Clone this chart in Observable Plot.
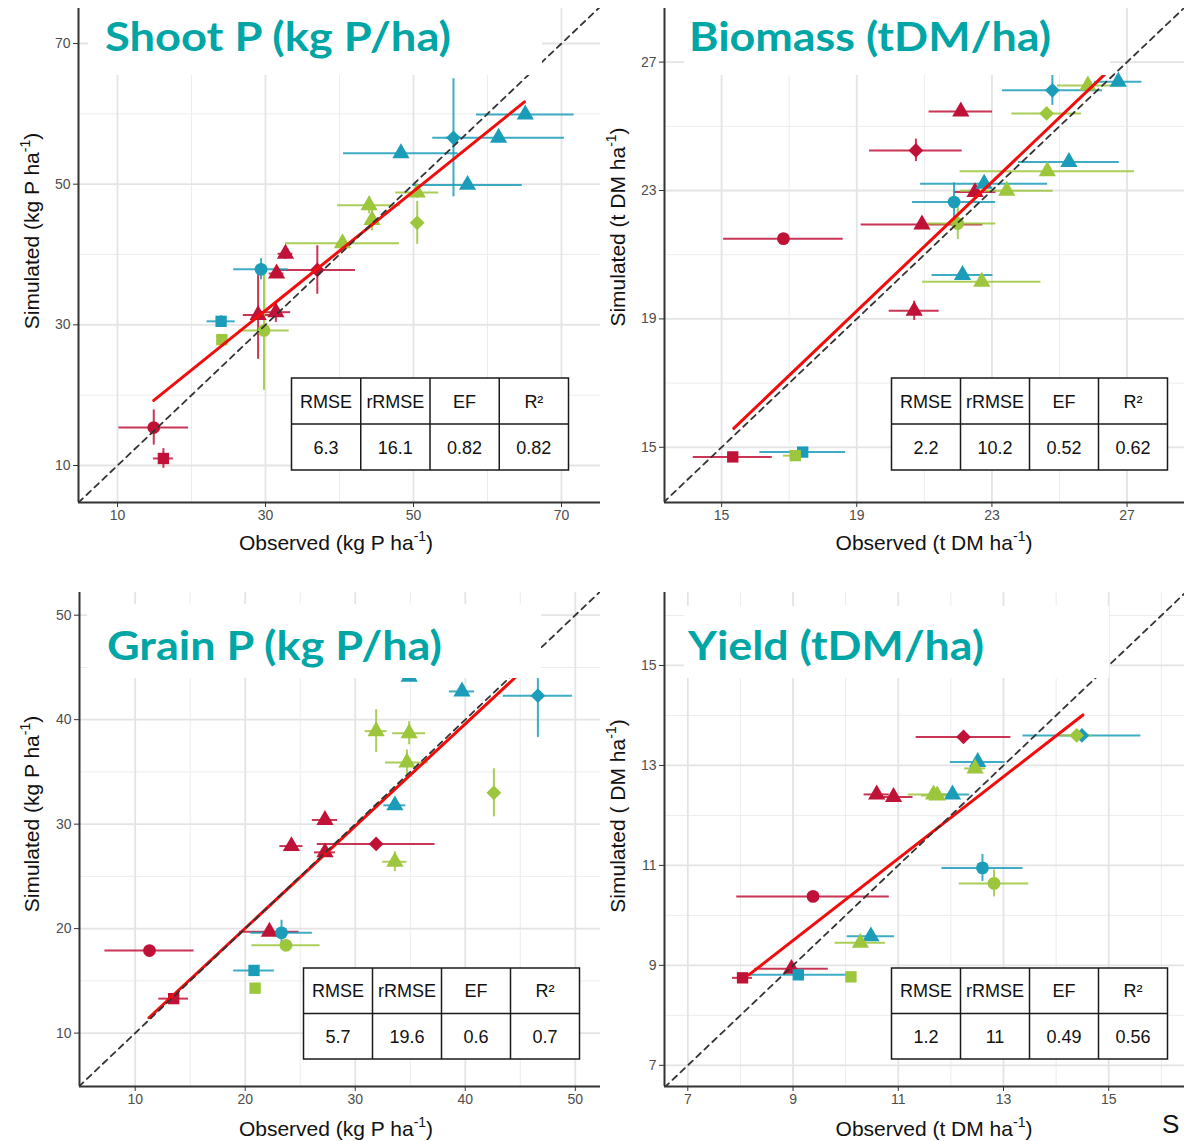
<!DOCTYPE html>
<html><head><meta charset="utf-8">
<script src="https://cdn.jsdelivr.net/npm/d3@7"></script>
<script src="https://cdn.jsdelivr.net/npm/@observablehq/plot@0.6"></script>
<style>
body{margin:0;background:#fff;}
#wrap{position:relative;width:1184px;height:1141px;overflow:hidden;background:#fff;}
.panel{position:absolute;}
</style></head><body><div id="wrap"></div>
<script>
// ---------- shared categories ----------
const treatments = ["T1", "T2", "T3"];
const shapes = ["circ", "sq", "diam", "tri"];
const statHeaders = ["RMSE", "rRMSE", "EF", "R²"];

// ---------- Shoot P (kg P/ha) ----------
const shootObs = [14.9, 16.2, 31.5, 32.7, 29.0, 31.4, 37.0, 24.0, 29.4, 48.3, 55.4, 61.5, 57.3, 65.1, 24.1, 29.8, 40.4, 44.0, 44.4, 50.5, 50.5];
const shootSim = [15.4, 11.0, 37.3, 40.1, 31.4, 31.8, 37.8, 30.5, 37.9, 54.4, 56.6, 56.6, 49.9, 59.9, 27.9, 29.2, 41.6, 47.0, 44.9, 48.8, 44.5];
const shootObsSd = [4.7, 1.35, 1.0, 1.0, 2.0, 2.0, 5.15, 1.9, 3.7, 7.75, 1.0, 8.9, 7.4, 6.6, 0.3, 3.4, 7.7, 4.25, 0.5, 2.9, 0.5];
const shootSimSd = [2.5, 1.4, 0.6, 0.8, 6.3, 1.45, 3.45, 0.8, 1.5, 0.5, 8.4, 0.5, 0.5, 0.5, 0.3, 8.5, 1.0, 1.2, 1.55, 0.8, 3.05];
const shootTrt = ["T1","T1","T1","T1","T1","T1","T1","T2","T2","T2","T2","T2","T2","T2","T3","T3","T3","T3","T3","T3","T3"];
const shootShape = ["circ","sq","tri","tri","tri","tri","diam","sq","circ","tri","diam","tri","tri","tri","sq","circ","tri","tri","tri","tri","diam"];
const shootFitObs = [14.9, 65.0];
const shootFitSim = [19.25, 61.7];
const shootStats = ["6.3", "16.1", "0.82", "0.82"];
const shootTicks = [10, 30, 50, 70];
const shootMinor = [20, 40, 60];

// ---------- Biomass (tDM/ha) ----------
const bioObs = [22.08, 20.75, 22.50, 20.93, 16.83, 20.70, 15.33, 24.79, 26.74, 25.28, 22.77, 21.88, 22.13, 17.40, 25.84, 24.62, 24.64, 23.44, 21.99, 22.70, 17.18];
const bioSim = [25.46, 24.25, 22.95, 21.94, 21.50, 19.25, 14.70, 26.12, 26.39, 23.89, 23.21, 22.64, 20.37, 14.85, 26.27, 25.40, 23.60, 22.99, 21.97, 20.16, 14.74];
const bioObsSd = [0.94, 1.37, 0.62, 1.8, 1.77, 0.74, 1.17, 1.48, 0.7, 1.49, 1.88, 1.23, 0.9, 1.27, 0.9, 1.03, 2.58, 1.37, 1.12, 1.75, 0.35];
const bioSimSd = [0.1, 0.35, 0.1, 0.15, 0.05, 0.3, 0.05, 0.47, 0.1, 0.1, 0.1, 0.6, 0.1, 0.05, 0.1, 0.1, 0.1, 0.1, 0.5, 0.1, 0.05];
const bioTrt = ["T1","T1","T1","T1","T1","T1","T1","T2","T2","T2","T2","T2","T2","T2","T3","T3","T3","T3","T3","T3","T3"];
const bioShape = ["tri","diam","tri","tri","circ","tri","sq","diam","tri","tri","tri","circ","tri","sq","tri","diam","tri","tri","circ","tri","sq"];
const bioFitObs = [15.36, 26.44];
const bioFitSim = [15.59, 26.72];
const bioStats = ["2.2", "10.2", "0.52", "0.62"];
const bioTicks = [15, 19, 23, 27];
const bioMinor = [17, 21, 25];

// ---------- Grain P (kg P/ha) ----------
const grainObs = [11.3, 13.5, 22.2, 24.2, 27.25, 27.25, 31.9, 20.8, 23.3, 33.6, 39.7, 46.6, 34.9, 20.9, 23.7, 33.6, 31.9, 34.9, 34.7, 42.6];
const grainSim = [17.9, 13.3, 19.7, 27.9, 30.4, 27.3, 28.1, 16.0, 19.6, 31.8, 42.7, 42.3, 44.1, 14.3, 18.4, 26.4, 38.9, 38.7, 35.9, 33.0];
const grainObsSd = [4.05, 1.35, 2.7, 1.05, 1.15, 0.95, 5.35, 1.85, 2.8, 1.0, 1.15, 3.15, 0.8, 0.3, 3.1, 1.1, 1.0, 1.5, 1.95, 0.3];
const grainSimSd = [0.2, 0.2, 0.3, 0.4, 0.5, 0.3, 0.2, 0.4, 1.2, 0.3, 0.3, 4.0, 0.3, 0.2, 0.3, 0.95, 2.05, 1.1, 1.2, 2.3];
const grainTrt = ["T1","T1","T1","T1","T1","T1","T1","T2","T2","T2","T2","T2","T2","T3","T3","T3","T3","T3","T3","T3"];
const grainShape = ["circ","sq","tri","tri","tri","tri","diam","sq","circ","tri","tri","diam","tri","sq","circ","tri","tri","tri","tri","diam"];
const grainFitObs = [11.25, 46.6];
const grainFitSim = [11.47, 46.05];
const grainStats = ["5.7", "19.6", "0.6", "0.7"];
const grainTicks = [10, 20, 30, 40, 50];
const grainMinor = [15, 25, 35, 45];

// ---------- Yield (tDM/ha) ----------
const yieldObs = [12.24, 10.59, 10.91, 9.38, 8.97, 8.04, 12.51, 12.03, 14.49, 12.60, 10.48, 9.10, 12.46, 11.67, 11.74, 14.39, 12.82, 10.28, 10.10];
const yieldSim = [13.57, 12.42, 12.37, 10.38, 8.93, 8.75, 13.07, 12.42, 13.60, 10.95, 9.58, 8.81, 12.94, 12.42, 12.40, 13.60, 10.64, 9.45, 8.77];
const yieldObsSd = [0.9, 0.24, 0.37, 1.45, 0.7, 0.19, 0.52, 0.33, 1.12, 0.77, 0.45, 1.06, 0.2, 0.48, 0.3, 0.3, 0.66, 0.48, 0.05];
const yieldSimSd = [0.05, 0.05, 0.1, 0.05, 0.05, 0.05, 0.05, 0.05, 0.05, 0.27, 0.05, 0.05, 0.05, 0.05, 0.05, 0.05, 0.27, 0.05, 0.05];
const yieldTrt = ["T1","T1","T1","T1","T1","T1","T2","T2","T2","T2","T2","T2","T3","T3","T3","T3","T3","T3","T3"];
const yieldShape = ["diam","tri","tri","circ","tri","sq","tri","tri","diam","circ","tri","sq","tri","tri","tri","diam","circ","tri","sq"];
const yieldFitObs = [8.16, 14.51];
const yieldFitSim = [8.81, 14.01];
const yieldStats = ["1.2", "11", "0.49", "0.56"];
const yieldTicks = [7, 9, 11, 13, 15];
const yieldMinor = [8, 10, 12, 14, 16];

// ---------- styling ----------
const trtColors = ["#C01236", "#1B9DBA", "#9CC63B"];
// square rotated 45° (ggplot filled diamond)
const diamondSymbol = {
  draw(context, size) {
    const r = 0.92 * Math.sqrt(size / 2);
    context.moveTo(0, -r); context.lineTo(r, 0); context.lineTo(0, r); context.lineTo(-r, 0); context.closePath();
  }
};
const shapeSymbols = ["circle", "square", diamondSymbol, "triangle"];
const FONT = "'Liberation Sans', Arial, Helvetica, sans-serif";

function makePanel(cfg) {
  const data = cfg.obs.map((o, i) => ({obs: o, sim: cfg.sim[i], xe: cfg.obsSd[i], ye: cfg.simSd[i], trt: cfg.trt[i], shp: cfg.shape[i]}));
  const fit = cfg.fitObs.map((x, i) => ({x, y: cfg.fitSim[i]}));
  const lo = Math.min(cfg.xd[0], cfg.yd[0]), hi = Math.max(cfg.xd[1], cfg.yd[1]);
  const diag = [{v: lo}, {v: hi}];
  return Plot.plot({
    width: cfg.w, height: cfg.h,
    marginTop: cfg.mt, marginBottom: cfg.mb, marginLeft: cfg.ml, marginRight: 0,
    x: {domain: cfg.xd},
    y: {domain: cfg.yd},
    color: {domain: treatments, range: trtColors},
    symbol: {domain: shapes, range: shapeSymbols},
    style: {background: "transparent", fontFamily: FONT, fontSize: "14px", color: "#4d4d4d", overflow: "visible"},
    marks: [
      Plot.gridX(cfg.minor, {stroke: "#ececec", strokeOpacity: 1, strokeWidth: 1}),
      Plot.gridY(cfg.minor, {stroke: "#ececec", strokeOpacity: 1, strokeWidth: 1}),
      Plot.gridX(cfg.ticks, {stroke: "#e4e4e4", strokeOpacity: 1, strokeWidth: 1.8}),
      Plot.gridY(cfg.ticks, {stroke: "#e4e4e4", strokeOpacity: 1, strokeWidth: 1.8}),
      Plot.ruleY(data, {y: "sim", x1: d => d.obs - d.xe, x2: d => d.obs + d.xe, stroke: "trt", strokeWidth: 2, strokeOpacity: 0.85, clip: true}),
      Plot.ruleX(data, {x: "obs", y1: d => d.sim - d.ye, y2: d => d.sim + d.ye, stroke: "trt", strokeWidth: 2, strokeOpacity: 0.85, clip: true}),
      Plot.dot(data, {x: "obs", y: "sim", fill: "trt", symbol: "shp", r: 6.4, stroke: "none", clip: true}),
      Plot.line(fit, {x: "x", y: "y", stroke: "#f20d0d", strokeWidth: 3, clip: true}),
      Plot.line(diag, {x: "v", y: "v", stroke: "#333", strokeWidth: 1.8, strokeDasharray: "6,5", clip: true}),
      Plot.ruleX([cfg.xd[0]], {stroke: "#333", strokeWidth: 2}),
      Plot.ruleY([cfg.yd[0]], {stroke: "#333", strokeWidth: 2}),
      Plot.axisX(cfg.ticks, {label: null, tickSize: 5, tickPadding: 3, fontSize: 14, stroke: "#333", tickFormat: d => String(d)}),
      Plot.axisY(cfg.ticks, {label: null, tickSize: 5, tickPadding: 3, fontSize: 14, stroke: "#333", tickFormat: d => String(d)})
    ]
  });
}

const panels = [
  {left: 0, top: 0, w: 600, h: 570, mt: 8, mb: 68, ml: 78, xd: [4.73, 75.27], yd: [4.74, 74.98],
   obs: shootObs, sim: shootSim, obsSd: shootObsSd, simSd: shootSimSd, trt: shootTrt, shape: shootShape,
   fitObs: shootFitObs, fitSim: shootFitSim, ticks: shootTicks, minor: shootMinor},
  {left: 600, top: 0, w: 584, h: 570, mt: 8, mb: 68, ml: 64, xd: [13.31, 28.70], yd: [13.28, 28.67],
   obs: bioObs, sim: bioSim, obsSd: bioObsSd, simSd: bioSimSd, trt: bioTrt, shape: bioShape,
   fitObs: bioFitObs, fitSim: bioFitSim, ticks: bioTicks, minor: bioMinor},
  {left: 0, top: 580, w: 600, h: 561, mt: 12, mb: 55, ml: 79, xd: [4.94, 52.29], yd: [4.89, 52.17],
   obs: grainObs, sim: grainSim, obsSd: grainObsSd, simSd: grainSimSd, trt: grainTrt, shape: grainShape,
   fitObs: grainFitObs, fitSim: grainFitSim, ticks: grainTicks, minor: grainMinor},
  {left: 600, top: 580, w: 584, h: 561, mt: 12, mb: 55, ml: 64, xd: [6.557, 16.44], yd: [6.576, 16.46],
   obs: yieldObs, sim: yieldSim, obsSd: yieldObsSd, simSd: yieldSimSd, trt: yieldTrt, shape: yieldShape,
   fitObs: yieldFitObs, fitSim: yieldFitSim, ticks: yieldTicks, minor: yieldMinor}
];

const wrap = document.getElementById("wrap");
for (const p of panels) {
  const div = document.createElement("div");
  div.className = "panel";
  div.style.left = p.left + "px";
  div.style.top = p.top + "px";
  div.appendChild(makePanel(p));
  wrap.appendChild(div);
}

// ---------- overlay: title boxes, titles, axis labels, tables ----------
const ov = d3.select(wrap).append("svg")
  .attr("width", 1184).attr("height", 1141)
  .style("position", "absolute").style("left", 0).style("top", 0)
  .style("font-family", FONT);

const titles = [
  {text: "Shoot P (kg P/ha)", box: [88, 0, 454, 75], x: 105, y: 51, w: 346},
  {text: "Biomass (tDM/ha)", box: [684, 0, 426, 75], x: 689, y: 51, w: 362},
  {text: "Grain P (kg P/ha)", box: [87, 604, 454, 74], x: 107, y: 660, w: 335},
  {text: "Yield (tDM/ha)", box: [684, 606, 425, 72], x: 688, y: 660, w: 296}
];
for (const t of titles) {
  ov.append("rect").attr("x", t.box[0]).attr("y", t.box[1]).attr("width", t.box[2]).attr("height", t.box[3]).attr("fill", "#fff");
  ov.append("text").attr("x", t.x).attr("y", t.y)
    .attr("font-family", "Lato, 'Open Sans', sans-serif").attr("font-weight", 700).attr("font-size", 41)
    .attr("fill", "#00A5A5").attr("textLength", t.w).attr("lengthAdjust", "spacingAndGlyphs").text(t.text);
}

function axisLabel(main, x, y, rotate) {
  const g = ov.append("g").attr("transform", `translate(${x},${y})` + (rotate ? " rotate(-90)" : ""));
  const tx = g.append("text").attr("text-anchor", "middle").attr("font-size", 21).attr("fill", "#111");
  tx.append("tspan").text(main);
  tx.append("tspan").attr("font-size", 14).attr("dy", -9).text("-1");
  tx.append("tspan").attr("dy", 9).text(")");
}
axisLabel("Simulated (kg P ha", 39, 231, true);
axisLabel("Observed (kg P ha", 336, 550, false);
axisLabel("Simulated (t DM ha", 625, 227, true);
axisLabel("Observed (t DM ha", 934, 550, false);
axisLabel("Simulated (kg P ha", 39, 814, true);
axisLabel("Observed (kg P ha", 336, 1136, false);
axisLabel("Simulated ( DM ha", 625, 816, true);
axisLabel("Observed (t DM ha", 934, 1136, false);

function statTable(x, y, w, h, values) {
  const g = ov.append("g");
  const cw = w / 4, rh = h / 2;
  g.append("rect").attr("x", x).attr("y", y).attr("width", w).attr("height", h)
    .attr("fill", "#fff").attr("stroke", "#1a1a1a").attr("stroke-width", 1.5);
  g.append("line").attr("x1", x).attr("x2", x + w).attr("y1", y + rh).attr("y2", y + rh).attr("stroke", "#1a1a1a").attr("stroke-width", 1.5);
  for (let i = 1; i < 4; i++) {
    g.append("line").attr("x1", x + i * cw).attr("x2", x + i * cw).attr("y1", y).attr("y2", y + h).attr("stroke", "#1a1a1a").attr("stroke-width", 1.5);
  }
  [statHeaders, values].forEach((row, r) => {
    row.forEach((v, c) => {
      g.append("text").attr("x", x + (c + 0.5) * cw).attr("y", y + (r + 0.5) * rh + 6.5)
        .attr("text-anchor", "middle").attr("font-size", 18).attr("fill", "#111").text(v);
    });
  });
}
statTable(291.5, 378, 277, 92, shootStats);
statTable(891.5, 378, 276, 92, bioStats);
statTable(303.5, 968, 276, 91, grainStats);
statTable(891.5, 968, 276, 91, yieldStats);

ov.append("text").attr("x", 1162).attr("y", 1133).attr("font-size", 26).attr("fill", "#111").text("S");
</script></body></html>
